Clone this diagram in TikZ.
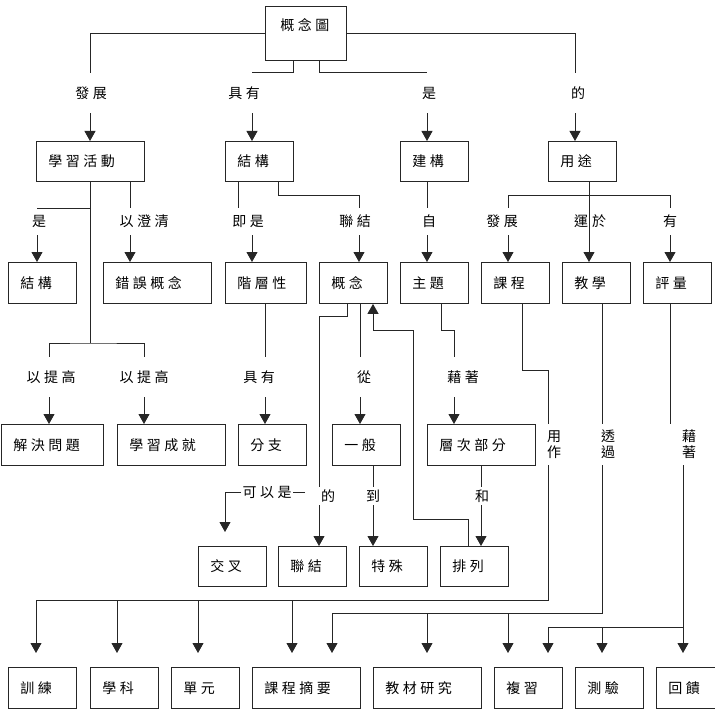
\documentclass[tikz,border=0pt]{standalone}
\usepackage{fontspec}
\setmainfont{Noto Sans CJK TC}[LetterSpace=25]
\usetikzlibrary{arrows.meta}
\begin{document}
\begin{tikzpicture}[x=1pt,y=-1pt,line width=0.9pt,draw=black!85,
  every node/.style={font=\fontsize{14}{16}\selectfont},
  box/.style={draw=black!85,anchor=north west,inner xsep=12pt,inner ysep=0pt,align=left,minimum height=41pt},
  w68/.style={box,minimum width=68pt,text width=44pt},
  w81/.style={box,minimum width=81pt,text width=57pt},
  w102/.style={box,minimum width=102pt,text width=78pt},
  w108/.style={box,minimum width=108pt,text width=84pt},
  h40/.style={minimum height=40pt},
  rootbox/.style={draw=black!85,anchor=north west,minimum width=81pt,minimum height=54pt,inner xsep=15pt,inner ysep=0pt,text width=51pt,align=left,text height=24pt,text depth=30pt},
  lt/.style={inner sep=0pt,minimum height=40pt},
  lm/.style={inner sep=0pt,minimum height=27pt},
  ls/.style={inner sep=0pt,minimum height=18pt},
  lv/.style={inner sep=0pt,minimum height=41pt,align=center},
  arr/.style={-{Triangle[length=10pt,width=11pt]}}]
\useasboundingbox (0,0) rectangle (714,719);
% boxes
\node[rootbox] (root) at (265,6) {概念圖};
\node[w108,h40] (act) at (36,141) {學習活動};
\node[w68,h40] (str) at (225,141) {結構};
\node[w68,h40] (con) at (400,141) {建構};
\node[w68,h40] (usg) at (548,141) {用途};
\node[w68] (str2) at (8,262) {結構};
\node[w108] (mis) at (103,262) {錯誤概念};
\node[w81] (hier) at (225,262) {階層性};
\node[w68] (cpt) at (319,262) {概念};
\node[w68] (tpc) at (400,262) {主題};
\node[w68] (cur) at (481,262) {課程};
\node[w68] (tea) at (562,262) {教學};
\node[w68] (eva) at (643,262) {評量};
\node[w102] (sol) at (1,424) {解決問題};
\node[w108] (ach) at (117,424) {學習成就};
\node[w68] (bra) at (238,424) {分支};
\node[w68] (gen) at (332,424) {一般};
\node[w108] (lay) at (427,424) {層次部分};
\node[w68,h40] (crs) at (198,546) {交叉};
\node[w68,h40] (lnk) at (278,546) {聯結};
\node[w68,h40] (spe) at (359,546) {特殊};
\node[w68,h40] (arrn) at (440,546) {排列};
\node[w68] (trn) at (8,667) {訓練};
\node[w68] (sub) at (90,667) {學科};
\node[w68] (uni) at (171,667) {單元};
\node[w108] (sum) at (252,667) {課程摘要};
\node[w108] (mat) at (373,667) {教材研究};
\node[w68] (rev) at (494,667) {複習};
\node[w68] (tst) at (575,667) {測驗};
\node[w68] (fbk) at (656,667) {回饋};
% labels
\node[lt] (l1) at (91,93) {發展};
\node[lt] (l2) at (244,93) {具有};
\node[lt] (l3) at (429,93) {是};
\node[lt] (l4) at (578,93) {的};
\node[lm] (l5) at (39,221.5) {是};
\node[lm] (l6) at (144,221.5) {以澄清};
\node[lm] (l9) at (248,221.5) {即是};
\node[lm] (l10) at (355,221.5) {聯結};
\node[lm] (l11) at (429,221.5) {自};
\node[lm] (l12) at (502,221.5) {發展};
\node[lm] (l13) at (590,221.5) {運\hspace{4pt}於};
\node[lm] (l14) at (670,221.5) {有};
\node[lt] (l7) at (51,377) {以提高};
\node[lt] (l8) at (144,377) {以提高};
\node[lt] (l15) at (259,377) {具有};
\node[lt] (l18) at (364,377) {從};
\node[lt] (l19) at (463,377) {藉著};
\node[ls,inner xsep=1pt] (l16) at (267,492) {可以是};
\node[ls] (l17) at (328,496) {的};
\node[ls] (l20) at (373,496) {到};
\node[ls] (l21) at (482,496) {和};
\node[lv] (l22) at (554,444.5) {用\\作};
\node[lv] (l23) at (608,444.5) {透\\過};
\node[lv] (l24) at (689,444.5) {藉\\著};
\coordinate (k1) at (305,492);
% connectors from root
\draw (root.west) -| (l1.north -| 90,0);
\draw[arr] (l1.south -| 90,0) -- (act.north -| 90,0);
\draw (root.south -| 293,0) |- (l2.north -| 252,0);
\draw[arr] (l2.south -| 252,0) -- (str.north -| 252,0);
\draw (root.south -| 319,0) |- (l3.north -| 427,0);
\draw[arr] (l3.south -| 427,0) -- (con.north -| 427,0);
\draw (root.east) -| (l4.north -| 575,0);
\draw[arr] (l4.south -| 575,0) -- (usg.north -| 575,0);
% act
\draw (act.south -| 90,0) -- (90,343);
\draw (90,208) -| (l5.north -| 37,0);
\draw[arr] (l5.south -| 37,0) -- (str2.north -| 37,0);
\draw (act.south -| 130,0) -- (l6.north -| 130,0);
\draw[arr] (l6.south -| 130,0) -- (mis.north -| 130,0);
\draw (l7.north -| 49,0) |- (90,343) -| (l8.north -| 144,0);
\draw[arr] (l7.south -| 49,0) -- (sol.north -| 49,0);
\draw[arr] (l8.south -| 144,0) -- (ach.north -| 144,0);
% str
\draw (str.south -| 238,0) -- (l9.north -| 238,0);
\draw[arr] (l9.south -| 252,0) -- (hier.north -| 252,0);
\draw (str.south -| 278,0) -- (278,195) -| (l10.north -| 359,0);
\draw[arr] (l10.south -| 359,0) -- (cpt.north -| 359,0);
% con
\draw (con.south -| 427,0) -- (l11.north -| 427,0);
\draw[arr] (l11.south -| 427,0) -- (tpc.north -| 427,0);
% usage
\draw[arr] (usg.south -| 589,0) -- (tea.north -| 589,0);
\draw (l12.north -| 508,0) -- (508,195) -- (670,195) -- (l14.north -| 670,0);
\draw[arr] (l12.south -| 508,0) -- (cur.north -| 508,0);
\draw[arr] (l14.south -| 670,0) -- (eva.north -| 670,0);
% hier
\draw (hier.south -| 265,0) -- (l15.north -| 265,0);
\draw[arr] (l15.south -| 265,0) -- (bra.north -| 265,0);
% concept
\draw (cpt.south -| 347,0) -- (347,316) -| (l17.north -| 319,0);
\draw[arr] (l17.south -| 319,0) -- (lnk.north -| 319,0);
\draw (k1) -- (l16.east);
\draw[arr,shorten >=14pt] (l16.west) -| (crs.north -| 225,0);
\draw (cpt.south -| 360,0) -- (l18.north -| 360,0);
\draw[arr] (l18.south -| 360,0) -- (gen.north -| 360,0);
\draw[arr] (arrn.north -| 468,0) -- (468,519) -- (413,519) -- (413,330) -- (373,330) -- (cpt.south -| 373,0);
% topic
\draw (tpc.south -| 441,0) -- (441,330) -| (l19.north -| 454,0);
\draw[arr] (l19.south -| 454,0) -- (lay.north -| 454,0);
% general, layers
\draw (gen.south -| 373,0) -- (l20.north -| 373,0);
\draw[arr] (l20.south -| 373,0) -- (spe.north -| 373,0);
\draw (lay.south -| 481,0) -- (l21.north -| 481,0);
\draw[arr] (l21.south -| 481,0) -- (arrn.north -| 481,0);
% curriculum
\draw (cur.south -| 522,0) -- (522,370) -| (l22.north -| 548,0);
\draw (l22.south -| 548,0) -- (548,600) -- (36,600);
\draw[arr,shorten >=14pt] (36,600) -- (trn.north -| 36,0);
\draw[arr,shorten >=14pt] (117,600) -- (sub.north -| 117,0);
\draw[arr,shorten >=14pt] (198,600) -- (uni.north -| 198,0);
\draw[arr,shorten >=14pt] (292,600) -- (sum.north -| 292,0);
% teaching
\draw (tea.south -| 602,0) -- (l23.north -| 602,0);
\draw (l23.south -| 602,0) -- (602,613) -- (332,613);
\draw[arr,shorten >=14pt] (332,613) -- (sum.north -| 332,0);
\draw[arr,shorten >=14pt] (427,613) -- (mat.north -| 427,0);
\draw[arr,shorten >=14pt] (508,613) -- (rev.north -| 508,0);
% evaluation
\draw (eva.south -| 670,0) -- (l24.north -| 670,0);
\draw (l24.south -| 683,0) -- (683,627) -- (548,627);
\draw[arr,shorten >=14pt] (548,627) -- (rev.north -| 548,0);
\draw[arr,shorten >=14pt] (602,627) -- (tst.north -| 602,0);
\draw[arr,shorten >=14pt] (683,627) -- (fbk.north -| 683,0);
\end{tikzpicture}
\end{document}
